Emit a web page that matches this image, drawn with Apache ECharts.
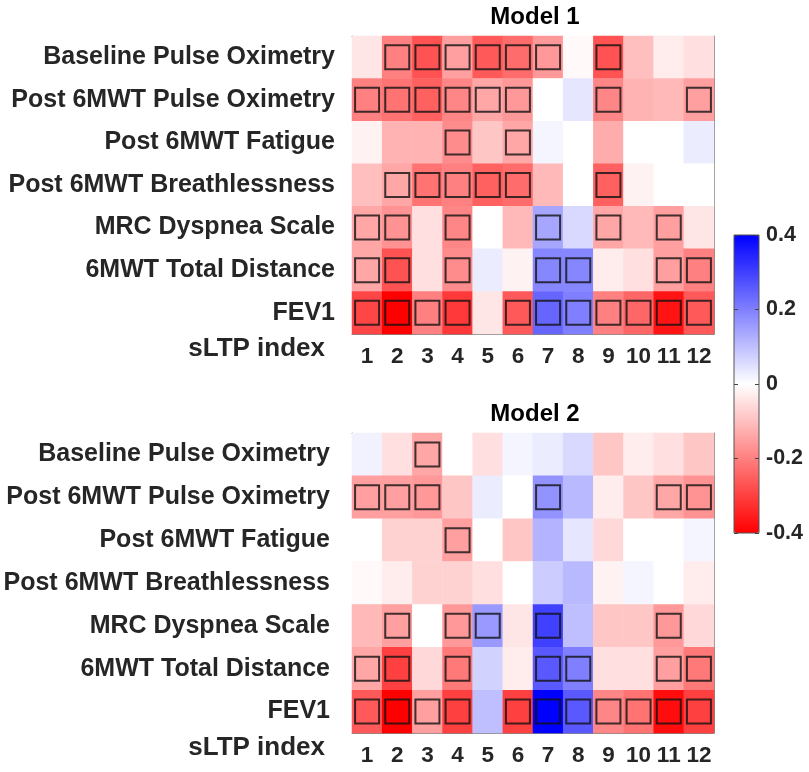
<!DOCTYPE html>
<html>
<head>
<meta charset="utf-8">
<title>sLTP index heatmaps</title>
<script src="https://cdn.jsdelivr.net/npm/echarts@6/dist/echarts.min.js"></script>
<style>
  html, body { margin: 0; padding: 0; background: #fff; }
  #chart { width: 809px; height: 772px; }
</style>
</head>
<body>
<div id="chart"></div>
<script>
// rows (top to bottom) and columns
var rowLabels = ['Baseline Pulse Oximetry', 'Post 6MWT Pulse Oximetry', 'Post 6MWT Fatigue',
                 'Post 6MWT Breathlessness', 'MRC Dyspnea Scale', '6MWT Total Distance', 'FEV1'];
var colLabels = ['1', '2', '3', '4', '5', '6', '7', '8', '9', '10', '11', '12'];

// Model 1 values, one array per row
var m1Values = [
    [-0.04, -0.20, -0.27, -0.15, -0.26, -0.23, -0.16, -0.01, -0.27, -0.10, -0.03, -0.05],
    [-0.20, -0.22, -0.25, -0.19, -0.14, -0.16, 0.00, 0.04, -0.19, -0.12, -0.11, -0.15],
    [-0.02, -0.12, -0.12, -0.18, -0.09, -0.14, 0.015, 0.00, -0.13, 0.00, 0.00, 0.03],
    [-0.10, -0.14, -0.22, -0.20, -0.25, -0.23, -0.11, 0.00, -0.25, -0.02, 0.00, 0.00],
    [-0.14, -0.17, -0.05, -0.19, 0.00, -0.11, 0.14, 0.06, -0.14, -0.11, -0.15, -0.04],
    [-0.14, -0.27, -0.05, -0.18, 0.03, -0.02, 0.19, 0.19, -0.03, -0.05, -0.15, -0.20],
    [-0.29, -0.40, -0.20, -0.31, -0.04, -0.26, 0.24, 0.20, -0.20, -0.24, -0.37, -0.26]
];
// Model 1 significant cells (boxed)
var m1Boxes = [
    [0, 1, 1, 1, 1, 1, 1, 0, 1, 0, 0, 0],
    [1, 1, 1, 1, 1, 1, 0, 0, 1, 0, 0, 1],
    [0, 0, 0, 1, 0, 1, 0, 0, 0, 0, 0, 0],
    [0, 1, 1, 1, 1, 1, 0, 0, 1, 0, 0, 0],
    [1, 1, 0, 1, 0, 0, 1, 0, 1, 0, 1, 0],
    [1, 1, 0, 1, 0, 0, 1, 1, 0, 0, 1, 1],
    [1, 1, 1, 1, 0, 1, 1, 1, 1, 1, 1, 1]
];

// Model 2 values
var m2Values = [
    [0.02, -0.05, -0.14, 0.00, -0.05, 0.015, 0.03, 0.06, -0.09, -0.03, -0.05, -0.09],
    [-0.15, -0.15, -0.16, -0.09, 0.03, 0.00, 0.17, 0.11, -0.03, -0.09, -0.14, -0.17],
    [0.00, -0.07, -0.07, -0.15, 0.00, -0.09, 0.12, 0.04, -0.06, 0.00, 0.00, 0.015],
    [-0.01, -0.03, -0.07, -0.07, -0.05, 0.00, 0.08, 0.11, -0.02, 0.015, 0.00, -0.03],
    [-0.11, -0.15, 0.00, -0.16, 0.16, -0.04, 0.30, 0.10, -0.09, -0.09, -0.16, -0.06],
    [-0.14, -0.30, -0.06, -0.21, 0.07, -0.03, 0.26, 0.20, -0.05, -0.05, -0.15, -0.21],
    [-0.26, -0.40, -0.15, -0.30, 0.10, -0.30, 0.40, 0.26, -0.19, -0.22, -0.38, -0.30]
];
var m2Boxes = [
    [0, 0, 1, 0, 0, 0, 0, 0, 0, 0, 0, 0],
    [1, 1, 1, 0, 0, 0, 1, 0, 0, 0, 1, 1],
    [0, 0, 0, 1, 0, 0, 0, 0, 0, 0, 0, 0],
    [0, 0, 0, 0, 0, 0, 0, 0, 0, 0, 0, 0],
    [0, 1, 0, 1, 1, 0, 1, 0, 0, 0, 1, 0],
    [1, 1, 0, 1, 0, 0, 1, 1, 0, 0, 1, 1],
    [1, 1, 1, 1, 0, 1, 1, 1, 1, 1, 1, 1]
];

var colorTicks = [-0.4, 0.4, 0.2]; // min, max, interval

var FONT = 'Liberation Sans';
var TXT = '#262626';

function toCells(values) {
    var out = [];
    values.forEach(function (row, r) {
        row.forEach(function (v, c) { out.push([c, r, v]); });
    });
    return out;
}
function toBoxes(boxes) {
    var out = [];
    boxes.forEach(function (row, r) {
        row.forEach(function (b, c) { if (b) out.push([c, r]); });
    });
    return out;
}

var tickStyle = { show: true, inside: true, alignWithLabel: true, length: 4, lineStyle: { color: '#555' } };
var lineStyle = { show: true, lineStyle: { color: '#888', width: 1 } };

function bottomAxis(gi, name) {
    return {
        gridIndex: gi, type: 'category', data: colLabels, position: 'bottom',
        axisLine: lineStyle, axisTick: tickStyle,
        axisLabel: { fontFamily: FONT, fontWeight: 'bold', fontSize: 22.5, color: TXT, margin: 11, interval: 0 },
        name: name, nameLocation: 'start', nameGap: 27,
        nameTextStyle: { fontFamily: FONT, fontWeight: 'bold', fontSize: 26, color: TXT,
                         align: 'right', verticalAlign: 'top', padding: [2, 0, 0, 0] }
    };
}
function topAxis(gi) {
    return {
        gridIndex: gi, type: 'category', data: colLabels, position: 'top',
        axisLine: lineStyle, axisTick: tickStyle, axisLabel: { show: false }
    };
}
function leftAxis(gi, gap) {
    return {
        gridIndex: gi, type: 'category', data: rowLabels, inverse: true, position: 'left',
        axisLine: lineStyle, axisTick: tickStyle,
        axisLabel: { fontFamily: FONT, fontWeight: 'bold', fontSize: 25, color: TXT, margin: gap }
    };
}
function rightAxis(gi) {
    return {
        gridIndex: gi, type: 'category', data: rowLabels, inverse: true, position: 'right',
        axisLine: lineStyle, axisTick: tickStyle, axisLabel: { show: false }
    };
}
// colorbar axes (ticks both sides, labels right)
function barAxis(pos, labels) {
    return {
        gridIndex: 2, type: 'value', position: pos, min: colorTicks[0], max: colorTicks[1],
        interval: colorTicks[2], z: 10,
        axisLine: { show: false, onZero: false }, splitLine: { show: false },
        axisTick: { show: true, inside: true, length: 4, lineStyle: { color: '#444' } },
        axisLabel: { show: labels, fontFamily: FONT, fontWeight: 'bold', fontSize: 21.5, color: TXT, margin: 7 }
    };
}

var boxStyle = { color: 'rgba(0,0,0,0)', borderColor: '#111', borderWidth: 2 };
var titleStyle = { fontFamily: FONT, fontWeight: 'bold', fontSize: 24, color: '#000' };

var chart = echarts.init(document.getElementById('chart'));
chart.setOption({
    backgroundColor: '#fff',
    animation: false,
    title: [
        { text: 'Model 1', left: 530, top: 0, textAlign: 'center', textStyle: titleStyle },
        { text: 'Model 2', left: 530, top: 397, textAlign: 'center', textStyle: titleStyle }
    ],
    grid: [
        { left: 352, top: 36, width: 362, height: 298 },
        { left: 352, top: 433, width: 362, height: 300 },
        { left: 734, top: 235, width: 25, height: 298, show: true, z: 10,
          backgroundColor: 'rgba(0,0,0,0)', borderColor: '#555', borderWidth: 1 }
    ],
    xAxis: [
        bottomAxis(0, 'sLTP index'), topAxis(0),
        bottomAxis(1, 'sLTP index'), topAxis(1),
        { gridIndex: 2, type: 'value', show: false }
    ],
    yAxis: [
        leftAxis(0, 17), rightAxis(0),
        leftAxis(1, 22), rightAxis(1),
        barAxis('right', true), barAxis('left', false)
    ],
    visualMap: {
        type: 'continuous', min: colorTicks[0], max: colorTicks[1], calculable: false,
        seriesIndex: [0, 1], left: 734, top: 235, itemWidth: 25, itemHeight: 298,
        padding: 0, showLabel: false,
        inRange: { color: ['#ff0000', '#ffffff', '#0000ff'] }
    },
    series: [
        { type: 'heatmap', xAxisIndex: 0, yAxisIndex: 0, data: toCells(m1Values) },
        { type: 'heatmap', xAxisIndex: 2, yAxisIndex: 2, data: toCells(m2Values) },
        { type: 'scatter', xAxisIndex: 0, yAxisIndex: 0, symbol: 'rect', symbolSize: 24,
          itemStyle: boxStyle, z: 5, data: toBoxes(m1Boxes) },
        { type: 'scatter', xAxisIndex: 2, yAxisIndex: 2, symbol: 'rect', symbolSize: 24,
          itemStyle: boxStyle, z: 5, data: toBoxes(m2Boxes) }
    ]
});
</script>
</body>
</html>
